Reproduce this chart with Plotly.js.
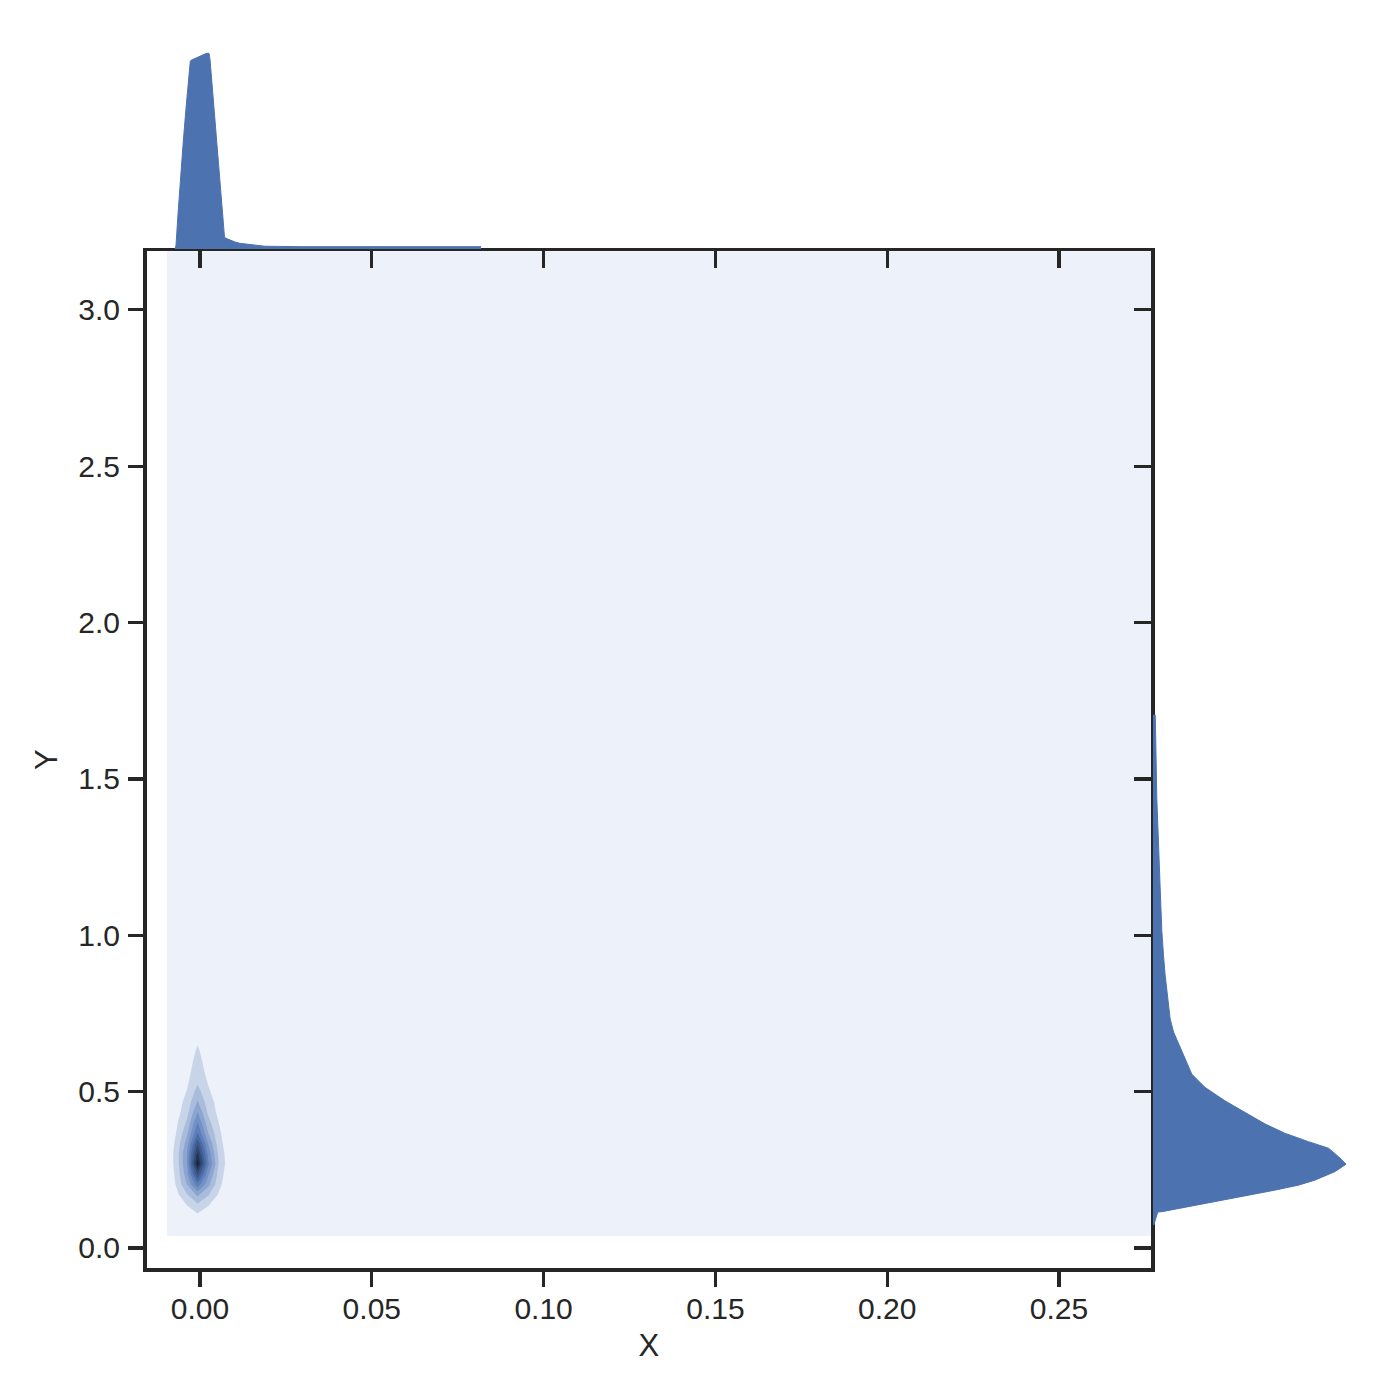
<!DOCTYPE html>
<html><head><meta charset="utf-8">
<script src="https://cdn.plot.ly/plotly-3.0.1.min.js"></script>
<style>html,body{margin:0;padding:0;background:#fff}</style>
</head><body><div id="chart" style="width:1400px;height:1400px"></div>
<script>
// 2D density grid
const gridX = [-0.0096, -0.0068, -0.0038, -0.0007, 0.0024, 0.0055, 0.0086, 0.0117, 0.30];
const gridY = [0.038, 0.071, 0.104, 0.137, 0.170, 0.203, 0.236, 0.269, 0.302, 0.335, 0.368,
               0.401, 0.434, 0.467, 0.500, 0.533, 0.566, 0.599, 0.632, 0.665, 0.698, 3.400];
const densityZ = [
  [0, 0.001, 0.003, 0.005, 0.003, 0.001, 0, 0, 0],
  [0, 0.004, 0.010, 0.020, 0.011, 0.004, 0, 0, 0],
  [0.002, 0.020, 0.050, 0.080, 0.052, 0.022, 0.003, 0, 0],
  [0.004, 0.045, 0.100, 0.180, 0.105, 0.048, 0.006, 0, 0],
  [0.006, 0.075, 0.190, 0.320, 0.210, 0.085, 0.012, 0.001, 0],
  [0.010, 0.112, 0.300, 0.560, 0.330, 0.130, 0.018, 0.002, 0],
  [0.012, 0.130, 0.360, 0.800, 0.420, 0.158, 0.025, 0.003, 0],
  [0.014, 0.145, 0.400, 1.040, 0.520, 0.195, 0.032, 0.004, 0],
  [0.014, 0.148, 0.400, 0.920, 0.470, 0.175, 0.030, 0.003, 0],
  [0.012, 0.128, 0.345, 0.770, 0.390, 0.142, 0.025, 0.003, 0],
  [0.010, 0.105, 0.275, 0.600, 0.300, 0.120, 0.021, 0.002, 0],
  [0.006, 0.085, 0.215, 0.500, 0.235, 0.098, 0.017, 0.001, 0],
  [0.004, 0.060, 0.165, 0.400, 0.180, 0.070, 0.011, 0, 0],
  [0.003, 0.052, 0.135, 0.310, 0.148, 0.060, 0.010, 0, 0],
  [0.002, 0.042, 0.104, 0.240, 0.114, 0.046, 0.008, 0, 0],
  [0, 0.032, 0.082, 0.180, 0.090, 0.034, 0.005, 0, 0],
  [0, 0.015, 0.068, 0.150, 0.071, 0.016, 0, 0, 0],
  [0, 0.010, 0.058, 0.130, 0.060, 0.011, 0, 0, 0],
  [0, 0.008, 0.050, 0.110, 0.050, 0.009, 0, 0, 0],
  [0, 0.006, 0.040, 0.090, 0.040, 0.007, 0, 0, 0],
  [0, 0.004, 0.025, 0.060, 0.026, 0.005, 0, 0, 0],
  [0, 0, 0, 0, 0, 0, 0, 0, 0]
];
const bandColors = ['#edf1f9', '#c8d4e8', '#a9bcdc', '#8ca5d0', '#7391c5', '#5d7eb8',
                    '#4b6ba4', '#3e5a8b', '#304870', '#223352', '#121b2d'];

// Marginal density of X (top)
const topX = [-0.00728, -0.00698, -0.00640, -0.00582, -0.00495, -0.00407, -0.00320, -0.00282,
              -0.00262, -0.00146, 0, 0.00116, 0.00204, 0.00262, 0.00291, 0.00349, 0.00437,
              0.00524, 0.00611, 0.00690, 0.00713, 0.00757, 0.00873, 0.01019, 0.01164, 0.01368,
              0.01601, 0.01892, 0.02910, 0.05821, 0.08178];
const topDensity = [0, 1.8, 15.9, 30, 47.3, 64.1, 81.4, 85.5, 85.9, 86.8, 87.7, 88.6, 89.1, 89.1,
                    86.4, 75, 58.2, 40.9, 24.5, 7.3, 5.5, 5.0, 4.1, 3.3, 2.7, 2.3, 1.8, 1.4, 1.2, 1.2, 1.2];

// Marginal density of Y (right)
const rightY = [0.0736, 0.096, 0.115, 0.116, 0.128, 0.144, 0.164, 0.185, 0.201, 0.217, 0.244,
                0.268, 0.292, 0.319, 0.340, 0.367, 0.397, 0.434, 0.471, 0.514, 0.556, 0.630,
                0.691, 0.734, 0.776, 0.825, 0.874, 0.936, 1.015, 1.156, 1.296, 1.437, 1.695, 1.705];
const rightDensity = [0.017, 0.05, 0.083, 0.15, 0.483, 0.928, 1.483, 2.033, 2.428, 2.70, 3.033,
                      3.222, 3.095, 2.928, 2.595, 2.20, 1.867, 1.533, 1.20, 0.867, 0.65, 0.483,
                      0.345, 0.288, 0.262, 0.233, 0.205, 0.178, 0.15, 0.122, 0.095, 0.067, 0.042, 0.04];

const xTickVals = [0, 0.05, 0.10, 0.15, 0.20, 0.25];
const xTickText = ['0.00', '0.05', '0.10', '0.15', '0.20', '0.25'];
const yTickVals = [0, 0.5, 1.0, 1.5, 2.0, 2.5, 3.0];
const yTickText = ['0.0', '0.5', '1.0', '1.5', '2.0', '2.5', '3.0'];

const ink = '#262626';
const fillBlue = '#4c72b0';
const FONT = 'Liberation Sans, Arial, Helvetica, sans-serif';
const W = 1400, H = 1400;
const px = v => v / W, py = v => 1 - v / H;

const colorscale = bandColors.map((c, i) => [i / (bandColors.length - 1), c]);

const traces = [
  {
    type: 'contour', x: gridX, y: gridY, z: densityZ,
    autocontour: false,
    contours: {start: 0.1, end: 1.0, size: 0.1, coloring: 'fill', showlines: false},
    line: {width: 0, smoothing: 0},
    colorscale: colorscale, showscale: false, hoverinfo: 'skip',
    xaxis: 'x', yaxis: 'y'
  },
  {
    type: 'scatter', mode: 'lines', x: topX, y: topDensity, fill: 'tozeroy',
    line: {color: fillBlue, width: 1}, fillcolor: fillBlue, hoverinfo: 'skip',
    xaxis: 'x2', yaxis: 'y2'
  },
  {
    type: 'scatter', mode: 'lines', x: rightDensity, y: rightY, fill: 'tozerox',
    line: {color: fillBlue, width: 1}, fillcolor: fillBlue, hoverinfo: 'skip',
    xaxis: 'x3', yaxis: 'y3'
  }
];

const tickCommon = {
  ticks: 'outside', tickwidth: 3.2, tickcolor: ink, showgrid: false, zeroline: false
};

const layout = {
  width: W, height: H,
  margin: {l: 0, r: 0, t: 0, b: 0},
  paper_bgcolor: '#ffffff', plot_bgcolor: 'rgba(0,0,0,0)',
  showlegend: false,
  font: {family: FONT, color: ink},
  xaxis: Object.assign({}, tickCommon, {
    domain: [px(146.5), px(1151)], range: [-0.01557, 0.27678], anchor: 'y',
    showline: true, linewidth: 3.5, linecolor: ink, mirror: true, ticklen: 15,
    tickvals: xTickVals, ticktext: xTickText, ticklabelstandoff: -4,
    tickfont: {size: 30, family: FONT, color: ink},
    title: {text: 'X', font: {size: 31, family: FONT, color: ink}, standoff: 12}
  }),
  yaxis: Object.assign({}, tickCommon, {
    domain: [py(1268), py(251.3)], range: [-0.0640, 3.1874], anchor: 'x',
    showline: true, linewidth: 3.5, linecolor: ink, mirror: true, ticklen: 15,
    tickvals: yTickVals, ticktext: yTickText, ticklabelstandoff: 2,
    tickfont: {size: 30, family: FONT, color: ink},
    title: {text: 'Y', font: {size: 31, family: FONT, color: ink}, standoff: 12}
  }),
  xaxis2: Object.assign({}, tickCommon, {
    domain: [px(146.5), px(1151)], matches: 'x', anchor: 'y2', side: 'bottom',
    showline: false, ticklen: 18, tickvals: xTickVals, showticklabels: false
  }),
  yaxis2: {
    domain: [py(249.3), py(50)], range: [0, 90.6], anchor: 'x2', visible: false
  },
  xaxis3: {
    domain: [px(1152.8), px(1352)], range: [0, 3.32], anchor: 'y3', visible: false
  },
  yaxis3: Object.assign({}, tickCommon, {
    domain: [py(1268), py(251.3)], matches: 'y', anchor: 'x3', side: 'left',
    showline: false, ticklen: 18, tickvals: yTickVals, showticklabels: false
  })
};

Plotly.newPlot('chart', traces, layout, {staticPlot: true, displayModeBar: false});
</script>
</body></html>
